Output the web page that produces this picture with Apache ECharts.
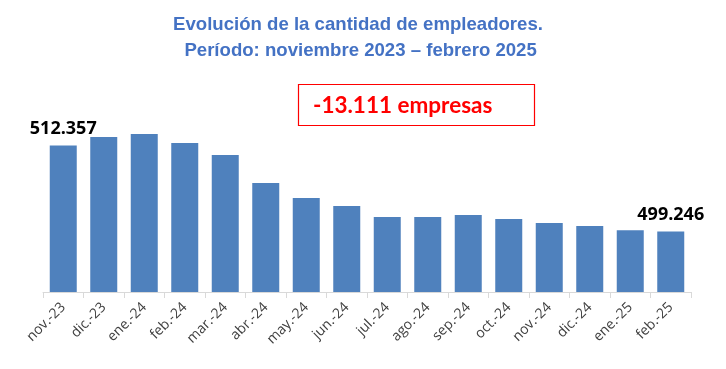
<!DOCTYPE html>
<html><head><meta charset="utf-8">
<script src="https://cdn.jsdelivr.net/npm/echarts@6/dist/echarts.min.js"></script>
<style>html,body{margin:0;padding:0;background:#fff}#c{width:726px;height:369px}</style>
</head><body><div id="c"></div>
<script>
const categories = ["nov.-23","dic.-23","ene.-24","feb.-24","mar.-24","abr.-24","may.-24","jun.-24","jul.-24","ago.-24","sep.-24","oct.-24","nov.-24","dic.-24","ene.-25","feb.-25"];
const empleadores = [512357,513640,514100,512720,510890,506620,504330,503110,501440,501440,501740,501130,500520,500060,499400,499246];
const labelIdx = [0, 15];
const titleLines = ["Evolución de la cantidad de empleadores.", " Período: noviembre 2023 – febrero 2025"];
const annotation = "-13.111 empresas";

const fmt = v => v.toLocaleString('de-DE');
const chart = echarts.init(document.getElementById('c'));
chart.setOption({
  animation: false,
  backgroundColor: '#fff',
  grid: { left: 43, right: 35, top: 95.3, bottom: 77 },
  xAxis: {
    type: 'category', data: categories,
    axisLine: { lineStyle: { color: '#d9d9d9' } },
    axisTick: { show: true, length: 6, lineStyle: { color: '#d9d9d9' } },
    axisLabel: { rotate: 45, color: '#404040', fontSize: 14, fontFamily: 'Open Sans', margin: 13, interval: 0 }
  },
  yAxis: { type: 'value', min: 490000, max: 520000, show: false, splitLine: { show: false } },
  series: [{
    type: 'bar', barWidth: 27,
    itemStyle: { color: '#4F81BD' },
    data: empleadores.map((v, i) => ({
      value: v,
      label: { show: labelIdx.includes(i), position: 'top', distance: 8, formatter: p => fmt(p.value),
               color: '#000', fontSize: 18, fontWeight: 'bold', fontFamily: 'Open Sans' }
    }))
  }],
  graphic: [
    { type: 'text', x: 358, y: 25, style: { text: titleLines[0], fill: '#4472C4', font: 'bold 18.6px "Liberation Sans"', textAlign: 'center', textVerticalAlign: 'middle' } },
    { type: 'text', x: 358, y: 51, style: { text: titleLines[1], fill: '#4472C4', font: 'bold 18.6px "Liberation Sans"', textAlign: 'center', textVerticalAlign: 'middle' } },
    { type: 'rect', shape: { x: 298.5, y: 84.5, width: 236, height: 41 }, style: { fill: '#fff', stroke: '#ff0000', lineWidth: 1.2 } },
    { type: 'text', x: 313, y: 106, style: { text: annotation, fill: '#ff0000', font: 'bold 22.5px Lato', textVerticalAlign: 'middle' } }
  ]
});
</script></body></html>
